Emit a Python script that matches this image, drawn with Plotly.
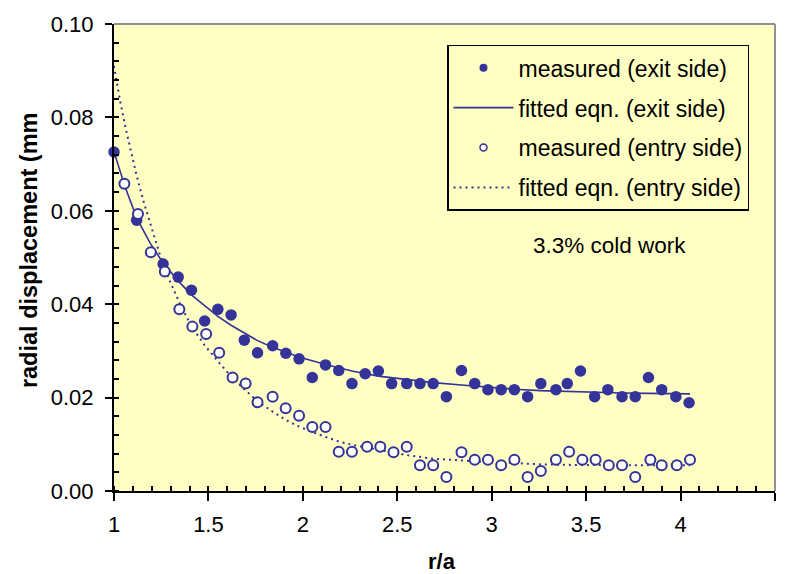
import plotly.graph_objects as go

# r/a positions and measured radial displacement (mm), exit side
exit_r = [1.00, 1.12, 1.26, 1.34, 1.41, 1.48, 1.55, 1.62, 1.69, 1.76, 1.84, 1.91,
          1.98, 2.05, 2.12, 2.19, 2.26, 2.33, 2.40, 2.47, 2.55, 2.62, 2.69, 2.76,
          2.84, 2.91, 2.98, 3.05, 3.12, 3.19, 3.26, 3.34, 3.40, 3.47, 3.545, 3.615,
          3.69, 3.76, 3.83, 3.90, 3.975, 4.045]
exit_u = [0.0726, 0.0580, 0.0486, 0.0458, 0.0430, 0.0364, 0.0389, 0.0377, 0.0323,
          0.0296, 0.0311, 0.0295, 0.0283, 0.0243, 0.0270, 0.0258, 0.0230, 0.0251,
          0.0257, 0.0230, 0.0230, 0.0230, 0.0230, 0.0202, 0.0258, 0.0230, 0.0217,
          0.0217, 0.0217, 0.0202, 0.0230, 0.0217, 0.0230, 0.0257, 0.0202, 0.0217,
          0.0202, 0.0202, 0.0243, 0.0217, 0.0202, 0.0189]

# measured radial displacement (mm), entry side
entry_r = [1.055, 1.127, 1.195, 1.269, 1.346, 1.415, 1.488, 1.557, 1.628, 1.697,
           1.76, 1.84, 1.909, 1.98, 2.05, 2.12, 2.19, 2.26, 2.34, 2.41, 2.48, 2.55,
           2.62, 2.69, 2.76, 2.84, 2.91, 2.98, 3.05, 3.12, 3.19, 3.26, 3.34, 3.41,
           3.48, 3.55, 3.62, 3.69, 3.76, 3.84, 3.90, 3.98, 4.05]
entry_u = [0.0658, 0.0593, 0.0511, 0.0470, 0.0389, 0.0352, 0.0336, 0.0296, 0.0243,
           0.0230, 0.0190, 0.0202, 0.0177, 0.0161, 0.0137, 0.0137, 0.0084, 0.0084,
           0.0095, 0.0095, 0.0083, 0.0095, 0.0055, 0.0055, 0.0030, 0.0083, 0.0067,
           0.0067, 0.0055, 0.0067, 0.0030, 0.0043, 0.0067, 0.0084, 0.0067, 0.0067,
           0.0055, 0.0055, 0.0030, 0.0067, 0.0055, 0.0055, 0.0067]

# fitted equation, exit side
fit_exit_r = [1.00, 1.06, 1.12, 1.19, 1.26, 1.34, 1.41, 1.48, 1.55, 1.62, 1.69, 1.76,
              1.84, 1.91, 1.98, 2.12, 2.26, 2.40, 2.55, 2.69, 2.84, 2.98, 3.12, 3.26,
              3.40, 3.55, 3.69, 3.83, 3.98, 4.05]
fit_exit_u = [0.0726, 0.0650, 0.0585, 0.0532, 0.0488, 0.0450, 0.0420, 0.0396, 0.0374,
              0.0355, 0.0338, 0.0322, 0.0308, 0.0297, 0.0287, 0.0271, 0.0257, 0.0246,
              0.0238, 0.0232, 0.0227, 0.0222, 0.0218, 0.0215, 0.0213, 0.0211, 0.0210,
              0.0209, 0.0208, 0.0208]

# fitted equation, entry side
fit_entry_r = [1.00, 1.03, 1.06, 1.09, 1.12, 1.16, 1.20, 1.24, 1.29, 1.35, 1.41, 1.48,
               1.55, 1.62, 1.69, 1.76, 1.84, 1.91, 1.98, 2.05, 2.12, 2.19, 2.26, 2.40,
               2.55, 2.69, 2.84, 2.98, 3.12, 3.26, 3.40, 3.55, 3.69, 3.83, 3.98, 4.05]
fit_entry_u = [0.0910, 0.0840, 0.0780, 0.0725, 0.0675, 0.0615, 0.0560, 0.0510, 0.0455,
               0.0400, 0.0353, 0.0312, 0.0278, 0.0245, 0.0218, 0.0192, 0.0170, 0.0152,
               0.0138, 0.0126, 0.0116, 0.0106, 0.0099, 0.0088, 0.0077, 0.0069, 0.0065,
               0.0062, 0.0060, 0.0057, 0.0056, 0.0055, 0.0055, 0.0055, 0.0055, 0.0055]

series_names = ["measured (exit side)", "fitted eqn. (exit side)",
                "measured (entry side)", "fitted eqn. (entry side)"]

BLUE = "#333399"
FONT = "Arial, Liberation Sans, sans-serif"
W, H = 788, 574
L, R, T, B = 114, 13, 18, 83

fig = go.Figure()

fig.add_trace(go.Scatter(x=fit_exit_r, y=fit_exit_u, mode="lines",
                         line=dict(color=BLUE, width=1.6), showlegend=False,
                         cliponaxis=False))
fig.add_trace(go.Scatter(x=fit_entry_r, y=fit_entry_u, mode="lines",
                         line=dict(color=BLUE, width=2, dash="2px,4px"),
                         showlegend=False, cliponaxis=False))
fig.add_trace(go.Scatter(x=exit_r, y=exit_u, mode="markers",
                         marker=dict(color=BLUE, size=11.5, line=dict(width=0)),
                         showlegend=False, cliponaxis=False))
fig.add_trace(go.Scatter(x=entry_r, y=entry_u, mode="markers",
                         marker=dict(color="white", size=10,
                                     line=dict(color=BLUE, width=2)),
                         showlegend=False, cliponaxis=False))

# legend entries
legend_styles = [
    dict(mode="markers", marker=dict(color=BLUE, size=8)),
    dict(mode="lines", line=dict(color=BLUE, width=1.6)),
    dict(mode="markers", marker=dict(color="white", size=7, line=dict(color=BLUE, width=1.5))),
    dict(mode="lines", line=dict(color=BLUE, width=2, dash="2px,4px")),
]
for i, (name, st) in enumerate(zip(series_names, legend_styles)):
    fig.add_trace(go.Scatter(x=[None], y=[None], name=name, legendgroup=f"g{i}",
                             showlegend=True, **st))

pw = W - L - R
ph = H - T - B

fig.update_layout(
    width=W, height=H,
    margin=dict(l=L, r=R, t=T, b=B, pad=0),
    paper_bgcolor="white",
    plot_bgcolor="#FFFFC4",
    font=dict(family=FONT, size=22, color="black"),
    showlegend=True,
    legend=dict(
        x=(447 - L) / pw, y=(H - B - 39) / ph, xanchor="left", yanchor="top",
        bgcolor="#FFFFC4", bordercolor="black", borderwidth=1.5,
        font=dict(family=FONT, size=23, color="black"),
        tracegroupgap=7, traceorder="grouped", itemwidth=60,
    ),
    xaxis=dict(
        range=[1, 4.5], dtick=0.5, tick0=1, showgrid=False, zeroline=False,
        showline=True, linecolor="black", linewidth=2,
        ticks="outside", ticklen=8, tickwidth=1.5, tickcolor="black",
        minor=dict(dtick=0.1, ticks="inside", ticklen=5, tickwidth=1.5, tickcolor="black"),
        tickfont=dict(family=FONT, size=22), ticklabelstandoff=5,
    ),
    yaxis=dict(
        range=[0, 0.10], dtick=0.02, tickformat=".2f", showgrid=False, zeroline=False,
        showline=True, linecolor="black", linewidth=2,
        ticks="outside", ticklen=7, tickwidth=1.5, tickcolor="black",
        minor=dict(dtick=0.004, ticks="inside", ticklen=5, tickwidth=1.5, tickcolor="black"),
        tickfont=dict(family=FONT, size=22), ticklabelstandoff=7,
    ),
    shapes=[
        dict(type="line", xref="paper", yref="paper", x0=0, x1=1, y0=1, y1=1,
             line=dict(color="#909090", width=2)),
        dict(type="line", xref="paper", yref="paper", x0=1, x1=1, y0=0, y1=1,
             line=dict(color="#909090", width=2)),
    ],
    annotations=[
        dict(text="<b>r/a</b>", xref="paper", yref="paper", x=(442 - L) / pw,
             y=-(562 - (H - B)) / ph, showarrow=False,
             font=dict(family=FONT, size=22, color="black"), xanchor="center", yanchor="middle"),
        dict(text="<b>radial displacement (mm</b>", xref="paper", yref="paper",
             x=-(L - 29) / pw, y=((H - B) - 247) / ph, textangle=-90, showarrow=False,
             font=dict(family=FONT, size=23.5, color="black"), xanchor="center", yanchor="middle"),
        dict(text="3.3% cold work", xref="paper", yref="paper", x=(531 - L) / pw,
             y=((H - B) - 242) / ph, showarrow=False, xanchor="left", yanchor="middle",
             font=dict(family=FONT, size=22.5, color="black")),
    ],
)

fig.write_html("out.html")
